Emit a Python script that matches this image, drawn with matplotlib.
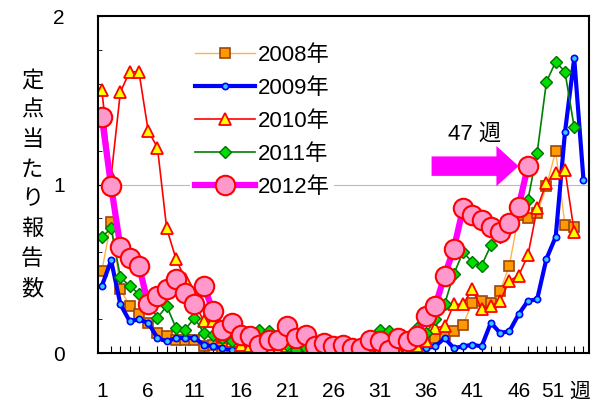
import numpy as np
import matplotlib
matplotlib.use('Agg')
import matplotlib.pyplot as plt
from matplotlib.ticker import MultipleLocator

plt.rcParams['font.family'] = ['Liberation Sans', 'Noto Sans CJK JP']

# 定点当たり報告数 by week
y2008 = [0.49, 0.78, 0.38, 0.28, 0.23, 0.18, 0.12, 0.10, 0.08, 0.08,
         0.08, 0.04, 0.05, 0.03, 0.03, 0.02, 0.03, 0.02, 0.02, 0.01,
         0.00, 0.01, 0.01, 0.01, 0.00, 0.01, 0.01, 0.01, 0.00, 0.01,
         0.01, 0.02, 0.01, 0.03, 0.05, 0.07, 0.09, 0.11, 0.13, 0.17,
         0.30, 0.31, 0.30, 0.37, 0.52, 0.82, 0.80, 0.83, 0.99, 1.20,
         0.76, 0.75]
y2009 = [0.40, 0.55, 0.29, 0.19, 0.20, 0.18, 0.09, 0.07, 0.09, 0.09,
         0.09, 0.05, 0.04, 0.03, 0.02, 0.02, 0.01, 0.01, 0.01, 0.01,
         0.02, 0.01, 0.01, 0.01, 0.01, 0.01, 0.01, 0.01, 0.02, 0.02,
         0.01, 0.02, 0.03, 0.04, 0.05, 0.03, 0.04, 0.09, 0.03, 0.04,
         0.05, 0.04, 0.18, 0.12, 0.13, 0.23, 0.31, 0.32, 0.56, 0.69,
         1.31, 1.75, 1.03]
y2010 = [1.56, 1.05, 1.55, 1.67, 1.67, 1.32, 1.22, 0.74, 0.56, 0.44,
         0.30, 0.19, 0.19, 0.10, 0.07, 0.05, 0.04, 0.03, 0.03, 0.02,
         0.04, 0.01, 0.02, 0.02, 0.01, 0.01, 0.01, 0.01, 0.01, 0.01,
         0.03, 0.01, 0.02, 0.03, 0.04, 0.07, 0.15, 0.16, 0.29, 0.29,
         0.38, 0.26, 0.28, 0.31, 0.43, 0.46, 0.58, 0.86, 1.01, 1.07,
         1.09, 0.72]
y2011 = [0.69, 0.74, 0.45, 0.40, 0.35, 0.30, 0.21, 0.28, 0.15, 0.14,
         0.21, 0.12, 0.11, 0.09, 0.07, 0.10, 0.12, 0.14, 0.13, 0.08,
         0.05, 0.02, 0.03, 0.03, 0.02, 0.02, 0.02, 0.03, 0.05, 0.08,
         0.14, 0.13, 0.07, 0.06, 0.15, 0.12, 0.20, 0.29, 0.47, 0.60,
         0.54, 0.52, 0.64, 0.69, 0.77, 0.85, 0.91, 1.19, 1.61, 1.73,
         1.67, 1.34]
y2012 = [1.40, 0.99, 0.63, 0.565, 0.52, 0.29, 0.34, 0.38, 0.44, 0.36,
         0.29, 0.40, 0.25, 0.14, 0.18, 0.11, 0.10, 0.05, 0.08, 0.08,
         0.16, 0.09, 0.11, 0.04, 0.06, 0.04, 0.05, 0.03, 0.03, 0.08,
         0.07, 0.02, 0.09, 0.07, 0.10, 0.22, 0.28, 0.46, 0.62, 0.86,
         0.82, 0.79, 0.75, 0.72, 0.77, 0.87, 1.11]

tick_labels = ['1', '6', '11', '16', '21', '26', '31', '36', '41', '46', '51', '週']
# label positions (the '51' label sits a bit left, next to '週')
tick_pos = [1, 6, 11, 16, 21, 26, 31, 36, 41, 46, 49.7, 52.6]
arrow_week = 47

fig = plt.figure(figsize=(6.06, 4.05), dpi=100)
ax = fig.add_axes([0.162, 0.128, 0.810, 0.832])

def weeks(v):
    return np.arange(1, len(v) + 1)

ax.plot(weeks(y2008), y2008, color='#FFB347', lw=1, marker='s', ms=7,
        mfc='#FF9900', mec='#A0460A', mew=1.2, label='2008年')
ax.plot(weeks(y2009), y2009, color='#0000FF', lw=3, marker='o', ms=4.5,
        mfc='#33CCFF', mec='#0000FF', mew=1.2, label='2009年')
ax.plot(weeks(y2010), y2010, color='#FF0000', lw=1.2, marker='^', ms=8.5,
        mfc='#FFFF00', mec='#FF0000', mew=1.3, label='2010年')
ax.plot(weeks(y2011), y2011, color='#008000', lw=1.2, marker='D', ms=6.5,
        mfc='#00DD00', mec='#007000', mew=1.0, label='2011年')
ax.plot(weeks(y2012), y2012, color='#FF00FF', lw=4.5, marker='o', ms=14,
        mfc='#FF99CC', mec='#FF0000', mew=1.5, label='2012年')

# arrow pointing at week 47 of 2012
ay = y2012[arrow_week - 1]
ax.annotate('', xy=(arrow_week - 1.0, ay), xytext=(arrow_week - 10.4, ay),
            arrowprops=dict(arrowstyle='simple,head_length=0.8,head_width=1.45,tail_width=0.7',
                            fc='#FF00FF', ec='none', shrinkA=0, shrinkB=0),
            fontsize=20)
ax.text(arrow_week - 5.8, ay + 0.19, '47 週', fontsize=16, ha='center', va='center')

ax.set_xlim(0.6, 53.6)
ax.set_ylim(0, 2)
ax.axhline(1, color='#BBBBBB', lw=0.8, zorder=0)

ax.set_xticks(tick_pos)
ax.set_xticklabels(tick_labels, fontsize=15)
ax.tick_params(axis='x', which='major', length=0, pad=21)
ax.xaxis.set_minor_locator(MultipleLocator(1))
ax.tick_params(axis='x', which='minor', direction='in', length=5, width=0.8)

ax.set_yticks([0, 1, 2])
ax.set_yticklabels(['0', '1', '2'], fontsize=15)
ax.yaxis.set_minor_locator(MultipleLocator(0.2))
ax.tick_params(axis='y', which='major', direction='in', length=4, pad=24)
ax.tick_params(axis='y', which='minor', direction='in', length=3)
for s in ax.spines.values():
    s.set_linewidth(1.5)

leg = ax.legend(loc='upper left', bbox_to_anchor=(0.165, 0.962), fontsize=16,
                handlelength=2.7, handletextpad=0.15, labelspacing=0.54,
                borderpad=0.2, frameon=True, fancybox=False)
leg.get_frame().set_edgecolor('none')
leg.get_frame().set_facecolor('white')
leg.get_frame().set_alpha(1)

fig.text(0.053, 0.543, '\n'.join('定点当たり報告数'), fontsize=16,
         ha='center', va='center', linespacing=1.55)

fig.savefig('out.png', dpi=100)
